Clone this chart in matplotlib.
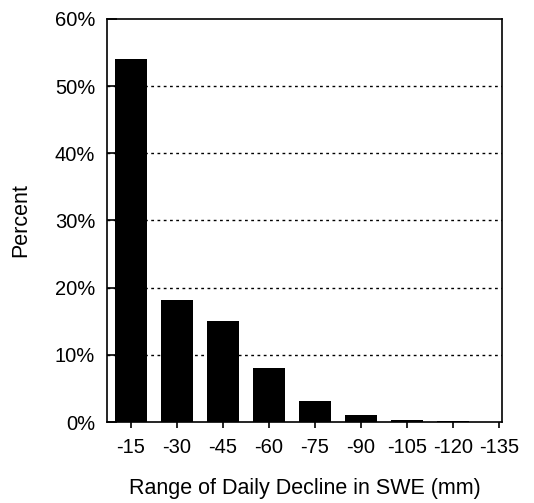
import numpy as np
import matplotlib
matplotlib.use('Agg')
import matplotlib.pyplot as plt

# 일일 SWE 감소 구간별 비율
categories = ['-15', '-30', '-45', '-60', '-75', '-90', '-105', '-120', '-135']
percent = [54.0, 18.2, 15.1, 8.0, 3.1, 1.1, 0.3, 0.2, 0.05]
yticks = [0, 10, 20, 30, 40, 50, 60]
yticklabels = ['0%', '10%', '20%', '30%', '40%', '50%', '60%']

plt.rcParams['font.family'] = ['Liberation Sans', 'DejaVu Sans']

fig = plt.figure(figsize=(5.34, 5.03), dpi=100)
ax = fig.add_axes([107/534, 81/503, 395/534, 403/503])

x = np.arange(len(categories))
ax.bar(x, percent, width=0.7, color='black', zorder=3)

# 점선 격자
for v in yticks[1:-1]:
    ax.axhline(v, color='black', linestyle=(0, (2, 2.5)), linewidth=1.0, zorder=1)

ax.set_xlim(-0.52, 8.07)
ax.set_ylim(0, 60)
ax.set_xticks(x)
ax.set_xticklabels(categories, fontsize=14.5)
ax.set_yticks(yticks)
ax.set_yticklabels(yticklabels, fontsize=14.5)
ax.tick_params(axis='y', direction='in', length=7, width=1.2, pad=8.5)
ax.tick_params(axis='x', direction='out', length=4.5, width=1.2, pad=7)

for s in ax.spines.values():
    s.set_linewidth(1.2)

ax.set_xlabel("Range of Daily Decline in SWE (mm)", fontsize=15.5, labelpad=15)
ax.set_ylabel("Percent", fontsize=15.5, labelpad=17)

fig.savefig('out.png', dpi=100)
